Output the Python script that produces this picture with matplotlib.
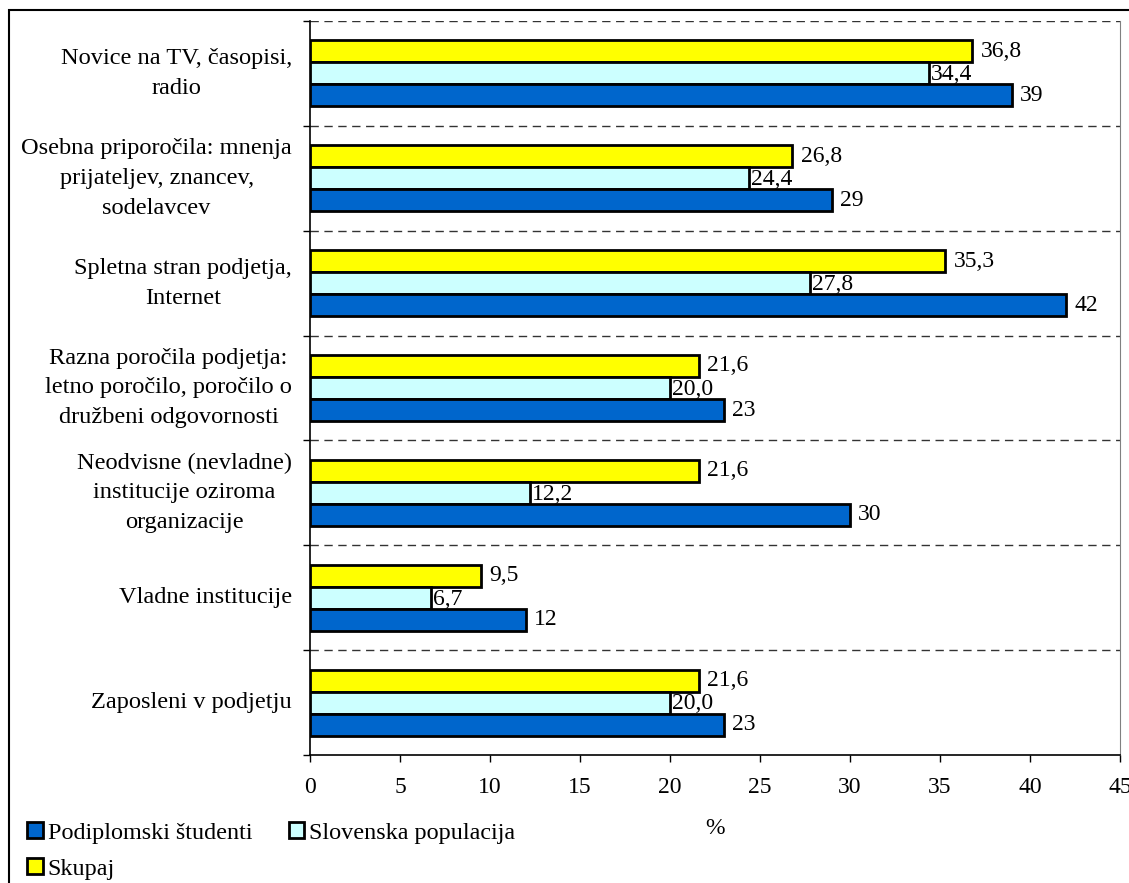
import matplotlib.pyplot as plt
import numpy as np
from matplotlib.patches import Patch, Rectangle

plt.rcParams['font.family'] = ['Liberation Serif', 'DejaVu Serif']

categories = [
    "Novice na TV, časopisi,\nradio",
    "Osebna priporočila: mnenja\nprijateljev, znancev,\nsodelavcev",
    "Spletna stran podjetja,\nInternet",
    "Razna poročila podjetja:\nletno poročilo, poročilo o\ndružbeni odgovornosti",
    "Neodvisne (nevladne)\ninstitucije oziroma\norganizacije",
    "Vladne institucije",
    "Zaposleni v podjetju",
]
studenti = [39, 29, 42, 23, 30, 12, 23]
populacija = [34.4, 24.4, 27.8, 20.0, 12.2, 6.7, 20.0]
skupaj = [36.8, 26.8, 35.3, 21.6, 21.6, 9.5, 21.6]

series_names = ["Podiplomski študenti", "Slovenska populacija", "Skupaj"]
colors = ["#0066CC", "#CCFFFF", "#FFFF00"]

fig = plt.figure(figsize=(11.29, 8.83), dpi=100)
ax = fig.add_axes([310 / 1129, 1 - 755 / 883, 810 / 1129, 734 / 883])

y = np.arange(len(categories))
h = 0.21

ax.barh(y - h, skupaj, height=h, color=colors[2], edgecolor="black", linewidth=2)
ax.barh(y, populacija, height=h, color=colors[1], edgecolor="black", linewidth=2)
ax.barh(y + h, studenti, height=h, color=colors[0], edgecolor="black", linewidth=2)

# value labels next to bar ends
for i in y:
    ax.annotate(f"{skupaj[i]:.1f}".replace(".", ","), (skupaj[i], i - h),
                xytext=(6, 0), textcoords="offset points", va="center", fontsize=17)
    ax.annotate(f"{populacija[i]:.1f}".replace(".", ","), (populacija[i], i),
                xytext=(1.5, -1), textcoords="offset points", va="center", fontsize=17)
    ax.annotate(f"{studenti[i]}", (studenti[i], i + h),
                xytext=(6, 0), textcoords="offset points", va="center", fontsize=17)

ax.set_xlim(0, 45)
ax.set_ylim(len(categories) - 0.5, -0.5)
ax.set_xticks(np.arange(0, 46, 5))
ax.tick_params(axis="x", direction="out", length=5, width=1, labelsize=17, pad=11)

# ticks on the group boundaries only
ax.set_yticks(np.arange(-0.5, len(categories), 1.0))
ax.set_yticklabels([])
ax.tick_params(axis="y", which="major", direction="out", length=5, width=1)

# category names, centred lines, right edge left of the axis
for i, name in enumerate(categories):
    ax.annotate(name, (0, i), xycoords=ax.get_yaxis_transform(),
                xytext=(-13, 0), textcoords="offset points",
                ha="right", va="center", multialignment="center",
                linespacing=1.55, fontsize=17.6)

for b in np.arange(-0.5, len(categories) - 1, 1.0):
    ax.axhline(b, color="#333333", linestyle=(0, (6, 4)), linewidth=1)

ax.spines["top"].set_visible(False)
ax.spines["right"].set_color("#808080")
ax.spines["left"].set_linewidth(1.2)
ax.spines["bottom"].set_linewidth(1.2)

fig.text(715 / 1129, 1 - 829 / 883, "%", ha="center", va="center", fontsize=17)

handles = [Patch(facecolor=colors[0], edgecolor="black", linewidth=2),
           Patch(facecolor=colors[2], edgecolor="black", linewidth=2),
           Patch(facecolor=colors[1], edgecolor="black", linewidth=2)]
labels = [series_names[0], series_names[2], series_names[1]]
fig.legend(handles, labels, ncol=2, loc="upper left",
           bbox_to_anchor=(27 / 1129, 1 - 822 / 883), frameon=False,
           fontsize=17.4, handlelength=0.66, handleheight=0.66,
           handletextpad=0.2, labelspacing=0.6, columnspacing=1.5,
           borderaxespad=0, borderpad=0)

fig.add_artist(Rectangle((9 / 1129, -0.05), 1.2, 1.05 - 10 / 883,
                         transform=fig.transFigure, fill=False,
                         edgecolor="black", linewidth=1.5))

fig.savefig("out.png", dpi=100)
